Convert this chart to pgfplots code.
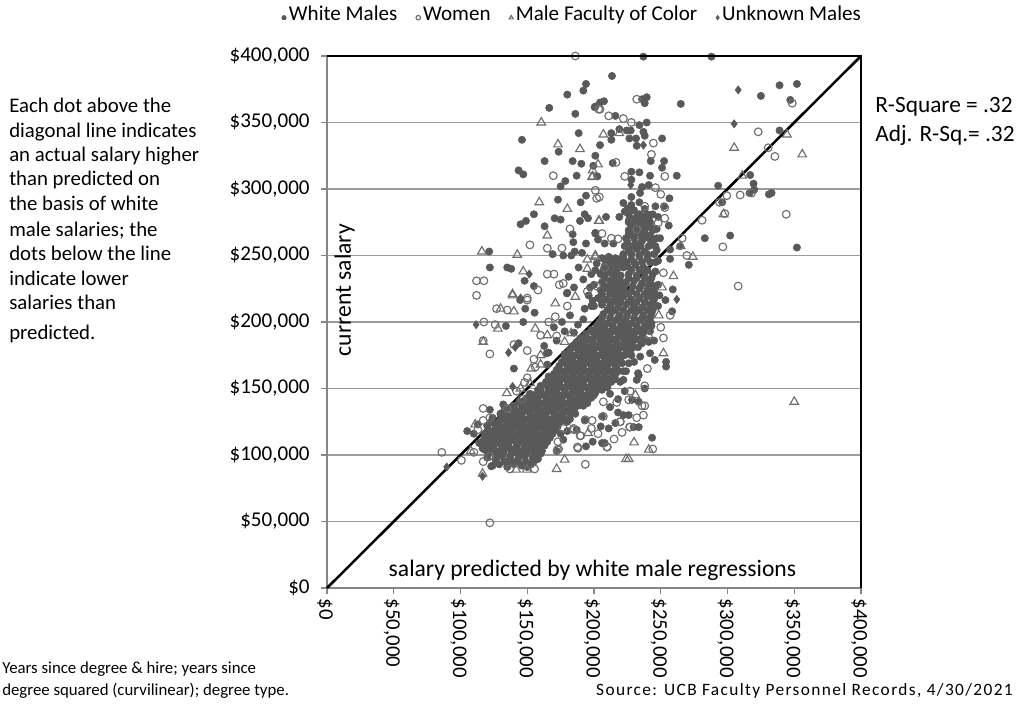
\documentclass[border=0pt]{standalone}
\usepackage{fontspec}
\setmainfont{Carlito}
\newfontfamily\srcfont[LetterSpace=8]{Carlito}
\usepackage{pgfplots}
\pgfplotsset{compat=1.18}
\definecolor{dots}{RGB}{89,89,89}
\definecolor{hollow}{RGB}{110,110,110}
\definecolor{gridc}{RGB}{155,155,155}
\definecolor{axisc}{RGB}{134,134,134}

\begin{document}
\begin{tikzpicture}[x=0.75pt,y=0.75pt]
\path[use as bounding box] (0,0) rectangle (1016,708);
\begin{axis}[
  at={(245.25pt,90pt)}, anchor=south west,
  scale only axis, width=400.5pt, height=399pt,
  xmin=0, xmax=400, ymin=0, ymax=400,
  clip=false,
  axis line style={axisc, line width=0.9pt},
  xtick={0,50,100,150,200,250,300,350,400},
  ytick={0,50,100,150,200,250,300,350,400},
  xticklabels={\$0,{\$50,000},{\$100,000},{\$150,000},{\$200,000},{\$250,000},{\$300,000},{\$350,000},{\$400,000}},
  yticklabels={\$0,{\$50,000},{\$100,000},{\$150,000},{\$200,000},{\$250,000},{\$300,000},{\$350,000},{\$400,000}},
  tick align=outside, tick pos=left,
  major tick length=4.5pt,
  tick style={axisc, line width=0.8pt},
  x tick label style={rotate=-90, anchor=west, yshift=-1.5pt, font=\fontsize{15.6}{18}\selectfont},
  y tick label style={xshift=-5pt, font=\fontsize{15.8}{18}\selectfont},
  ymajorgrids, grid style={gridc, line width=1pt},
  xlabel={salary predicted by white male regressions},
  ylabel={current salary},
  label style={font=\fontsize{17.7}{20}\selectfont},
  xlabel style={at={(axis description cs:0.497,0.034)}, anchor=center},
  ylabel style={at={(axis description cs:0.033,0.56)}, anchor=center},
  legend style={at={(0.46,1.072)}, anchor=center, draw=none, fill=none,
    font=\fontsize{15.8}{18}\selectfont, legend columns=4,
    nodes={text height=0.7em, text depth=0.22em},
    /tikz/every even column/.append style={column sep=12pt}},
  legend image code/.code={\draw[mark repeat=2,mark phase=2,#1,mark size=1.7pt] plot coordinates {(0cm,0cm)(0.23cm,0cm)(0.46cm,0cm)};},
]
% White Males
\addplot[only marks, mark=*, mark size=2.75pt, color=dots, mark options={fill=dots}] coordinates {
(194,379)(192,374)(180,371)(166.5,361)(186,356.5)(201,362)(188.5,342)(146,337)(173.5,328)(163,321)
(184,321)(190.5,319)(143.5,314)(147,311)(187,310)(178.5,306)(175,302)(173,292)(190,290)(194,295)
(155,281)(149,276)(145,273.5)(163,272)(170.5,278)(175,277)(189.5,276)(193,281)(195.5,278)(184,266)
(184.5,260)(194,259)(201,267)(121.5,253)(169,251)(177,250)(183,250)(185.5,253)(191,252)(122,241)
(135,241)(138,240)(188.5,241)(181,234)(148,231)(155,227)(192,232)(201,239)(180,222)(185,226)(197,226)
(237,399.5)(288,399.5)(213.5,385)(339,378)(352,379)(325,370)(347,367)(265,364)(239.5,369)(236,367.5)
(238,364.5)(207.5,366)(204.5,365)(200.5,361.5)(216,355)(239.5,350)(234,348)(219,345)(213,342)(224.5,344)
(227.5,344)(237,343)(251,338)(238,340)(213,337)(226.5,338)(231.5,338)(232,332.5)(204.5,333)(339,344)
(201,325)(252.5,321)(242.5,321)(251,316)(214,319.5)(199.5,317.5)(228,313)(234,312.5)(242,310)(262,310)
(202.5,309.5)(228,307)(317,310.5)(293,302.5)(319.5,304)(320,299.5)(316.5,297)(333,297)(331,296)(296,290)
(256.5,293)(241,303)(236,301.5)(234.5,297)(228,294)(222,289.5)(228,288)(234,290)(246,287)(252.5,287)
(223,283)(209,279)(219,279)(226,276)(236,279.5)(237,276)(248,279)(256,272.5)(201,266.5)(203,262)
(208,259)(214.5,259)(283,263)(302,265)(227,266)(234.5,266.5)(249.5,263)(264.5,257)(257,254.5)(352,256)
(271,243)(257,247.5)(259,224.5)
(243.5,113)(199,110)(194,106.5)(206,109)(208,109)(105,118)(140,165)(143.5,184)(134,197)(144.7,216.5)
(148.5,210)(155.5,207)(147,200)(162.7,182)(166,177)(179.7,221.5)(254,166.5)(254,170)(258.5,208)
(229.7,121)(233.5,121)(222,130)(218,132)(228.5,141.5)(233.5,140)(233.5,160)(232,156.5)(222,156.5)
(242,176.5)(245.5,171.5)(242,199)(253.5,216.5)(132,138)(114,109)(116.5,105)(205,121.5)(211,120)(177,111.5)
(219.6,155)(233,161.5)(234.6,174)(241,185)(123,91.5)(164.6,176.5)
% dense band
(124,92)(129,93)(135,91)(140,93)(146,92)(150,91)(153,93)
(120,98)(126,97)(131,99)(137,98)(143,97)(148,99)(154,98)(158,97)
(118,104)(123,105)(129,103)(134,105)(140,104)(146,103)(151,105)(157,104)(161,103)
(116,110)(121,111)(127,109)(133,110)(138,111)(144,109)(150,110)(155,111)(160,109)(165,110)
(118,116)(123,115)(129,117)(135,116)(141,115)(147,117)(153,116)(159,115)(164,117)(169,116)
(120,122)(126,123)(132,121)(138,122)(144,123)(150,121)(156,122)(162,123)(168,121)(173,122)
(124,128)(130,127)(136,129)(142,128)(148,127)(154,129)(160,128)(166,127)(172,129)(177,128)(182,127)
(133,134)(137,135)(143,133)(149,134)(155,135)(161,133)(167,134)(173,135)(179,133)(185,134)
(144,140)(148,141)(154,140)(160,139)(166,141)(172,140)(178,139)(184,141)(190,140)(195,139)
(152,146)(155,145)(161,146)(167,147)(173,145)(179,146)(185,147)(191,145)(197,146)(201,147)
(160,152)(164,153)(170,152)(176,151)(182,153)(188,152)(194,151)(200,153)(206,152)(210,151)
(166,159)(172,157)(178,158)(184,159)(190,157)(196,158)(202,159)(208,157)(214,158)
(172,164)(178,163)(184,165)(190,164)(196,163)(202,165)(208,164)(214,163)(217,165)
(176,170)(182,171)(188,169)(194,170)(200,171)(206,169)(212,170)(218,171)
(178,176)(184,175)(190,177)(196,176)(202,175)(208,177)(214,176)(220,175)
(184,182)(190,183)(196,181)(202,182)(208,183)(214,181)(220,182)(226,183)
(190,188)(196,187)(202,189)(208,188)(214,187)(220,189)(226,188)(232,187)
(198,194)(204,195)(210,193)(216,194)(222,195)(228,193)(234,194)(240,195)
(204,200)(210,199)(216,201)(222,200)(228,199)(234,201)(240,200)(243,199)
(207,206)(213,207)(219,205)(225,206)(231,207)(237,205)(243,206)
(212,212)(218,211)(224,213)(230,212)(236,211)(242,213)
(216,218)(222,219)(228,217)(234,218)(240,219)(245,217)
(222,224)(228,223)(234,225)(240,224)(245,223)
(224,230)(230,231)(236,229)(242,230)
(226,236)(232,235)(238,237)(244,236)
(225,242)(231,243)(237,241)
(222,248)(228,247)(234,249)(240,248)
(226,254)(232,255)(238,253)
(225,260)(231,259)(236,261)(243,260)
% in-between rows of the band
(127,95)(133,95)(138,95)(143,95)(149,95)(155,95)
(121,101)(127,101)(132,101)(138,101)(143,101)(149,101)(155,101)(160,101)
(119,107)(125,107)(131,107)(136,107)(142,107)(148,107)(153,107)(158,107)(163,107)
(118,113)(124,113)(130,113)(136,113)(141,113)(147,113)(152,113)(158,113)(162,113)(167,113)
(121,119)(126,119)(132,119)(138,119)(144,119)(150,119)(156,119)(162,119)(166,119)(171,119)
(123,125)(129,125)(135,125)(141,125)(147,125)(153,125)(159,125)(165,125)(170,125)(175,125)(180,125)
(130,131)(134,131)(140,131)(146,131)(152,131)(158,131)(164,131)(170,131)(176,131)(182,131)(186,131)
(140,137)(146,137)(152,137)(158,137)(164,137)(170,137)(176,137)(182,137)(188,137)(192,137)
(150,143)(152,143)(158,143)(164,143)(170,143)(176,143)(182,143)(188,143)(194,143)(198,143)
(158,149)(160,149)(166,149)(172,149)(178,149)(184,149)(190,149)(196,149)(202,149)(206,149)
(164,155)(168,155)(174,155)(180,155)(186,155)(192,155)(198,155)(204,155)(210,155)(213,155)
(170,161)(172,161)(178,161)(184,161)(190,161)(196,161)(202,161)(208,161)(214,161)(216,161)
(174,167)(180,167)(186,167)(192,167)(198,167)(204,167)(210,167)(216,167)
(178,173)(184,173)(190,173)(196,173)(202,173)(208,173)(214,173)(220,173)
(182,179)(188,179)(194,179)(200,179)(206,179)(212,179)(218,179)(224,179)
(187,185)(193,185)(199,185)(205,185)(211,185)(217,185)(223,185)(229,185)
(194,191)(200,191)(206,191)(212,191)(218,191)(224,191)(230,191)(236,191)
(202,197)(208,197)(214,197)(220,197)(226,197)(232,197)(238,197)(243,197)
(206,203)(212,203)(218,203)(224,203)(230,203)(236,203)(242,203)
(210,209)(216,209)(222,209)(228,209)(234,209)(240,209)(244,209)
(214,215)(220,215)(226,215)(232,215)(238,215)(244,215)
(220,221)(226,221)(232,221)(238,221)(244,221)
(223,227)(229,227)(235,227)(241,227)(246,227)
(226,233)(232,233)(238,233)(243,233)
(228,239)(234,239)(240,239)
% filling the body of the band
(126,103)(132,103)(138,103)(144,103)(150,103)(156,103)
(124,109)(130,109)(136,109)(142,109)(148,109)(154,109)(160,109)
(126,115)(132,115)(138,115)(144,115)(150,115)(156,115)(162,115)
(129,121)(135,121)(141,121)(147,121)(153,121)(159,121)(165,121)
(133,127)(139,127)(145,127)(151,127)(157,127)(163,127)(169,127)(175,127)
(140,133)(146,133)(152,133)(158,133)(164,133)(170,133)(176,133)(182,133)
(151,139)(157,139)(163,139)(169,139)(175,139)(181,139)(187,139)(193,139)
(158,145)(164,145)(170,145)(176,145)(182,145)(188,145)(194,145)(200,145)
(167,151)(173,151)(179,151)(185,151)(191,151)(197,151)(203,151)(209,151)
(169,157)(175,157)(181,157)(187,157)(193,157)(199,157)(205,157)(211,157)(216,157)
(175,163)(181,163)(187,163)(193,163)(199,163)(205,163)(211,163)(218,163)(222,163)
(179,169)(185,169)(191,169)(197,169)(203,169)(209,169)(215,169)(221,169)(226,169)
(181,175)(187,175)(193,175)(199,175)(205,175)(211,175)(217,175)(223,175)(228,175)
(187,181)(193,181)(199,181)(205,181)(211,181)(217,181)(223,181)(229,181)(233,181)
(193,187)(199,187)(205,187)(211,187)(217,187)(223,187)(229,187)(235,187)(238,187)
(201,193)(207,193)(213,193)(219,193)(225,193)(231,193)(237,193)(242,193)
% wider top of the band
(200,212)(206,213)(203,218)(209,217)(205,224)(210,225)(215,224)(219,223)
(206,230)(212,231)(217,230)(221,229)(205,236)(210,237)(215,236)(220,235)
(208,242)(213,243)(218,242)(222,241)(206,248)(211,249)(216,248)(219,247)
(226,266)(230,267)(238,266)(242,265)(228,272)(233,273)(238,272)(243,271)
(227,278)(232,279)(241,278)(225,285)(230,284)(238,285)
(248,212)(249,220)(248,228)(246,238)(248,246)(247,254)(245,262)(247,270)
(224,245)(230,245)(236,245)(242,245)(246,245)
(222,251)(228,251)(234,251)(240,251)(245,251)
(223,257)(229,257)(235,257)(241,257)(246,257)
(224,263)(230,263)(236,263)(241,263)(247,263)
(226,269)(232,269)(238,269)(244,269)
(226,275)(231,275)(236,275)(242,275)
(226,281)(234,281)(240,281)(244,281)
(206,215)(212,215)(217,215)(206,221)(212,221)(217,221)(208,227)(213,227)(218,227)
(208,233)(214,233)(219,233)(207,239)(212,239)(217,239)(209,245)(214,245)(219,245)
(198,212)(196,220)(200,228)(198,236)(202,244)
% scatter round the band
(170,196)(176,200)(182,205)(188,198)(193,210)(199,216)
(165,168)(172,186)(178,193)(185,192)(192,202)
(206,129)(212,136)(218,142)(223,148)(216,124)(212,146)(224,163)(230,170)(228,180)(236,184)
(245,186)(238,150)(226,130)(193,126)(187,119)(180,118)(175,116)(172,103)
(128,114)(110,116)(113,123)(130,131)(122,134)
};
% Women
\addplot[only marks, mark=o, mark size=2.9pt, color=hollow, mark options={line width=0.85pt, fill=none}] coordinates {
(186,400)(169.5,310)(203.5,360)(201,299)(202,293)(182,270)(152,258)(165,255.5)(176,255.5)(112,231)
(117.5,231)(112,220)(165,236)(170,236)(177,229)(150,218)(195,223)(202,227)
(232,367.5)(204.5,360)(211,355)(222,353)(228,350)(244.5,334.5)(243,326)(216.5,320)(223,309.5)(253,309.5)
(246,301)(250,296)(204,294)(238,287)(253,286)(253,278)(248,274.5)(206,266.5)(213,263)(218,262.5)
(232,269.5)(266,263)(281,276.5)(294,290)(299.5,295)(309.5,295.5)(318,297)(298,281.5)(344,281)(296.5,256.5)
(308,227)(269.5,250)(323,343)(330.5,331)(335.5,324.5)(348.5,364.5)(252,237)(208,241)
(127,210)(135,209)(150,216.5)(117.5,200)(126,198)(117,186)(122,176)(150,178.5)(148,154.5)(117,135)
(117,126)(122,128)(113,119)(86,102)(100.7,96)(110,102)(117,95)(122,49)(193.5,93)(173.5,104.5)
(188,105)(210,106)(244,104.5)(221,117)(238,152)(227,148)(236,137)(238,137)(237,130)(219.7,125)
(252,188)(240,165)(257,205)(172,189.5)(166,200)(171,204)(140,183)(173,110)(185,119)(190,114.5)
(226.7,121)(137,89.5)(155.5,89.5)(122,99)
(160,190)(155,172)(198,120)(203,116)(215,112)(232,128)(250,196)(180,212)(174,228)(158,224)
(193.4,126.5)(198.6,126)(207,140)(217,139.5)(219.6,125)(177,120)(184.6,120)(189.6,114.5)(172.6,104)(187.6,106)
(209.6,106)(226,141.5)(227,121)(207,129)(142,148)(150,158)(156,166)(146,142)(135,135)
};
% Male Faculty of Color
\addplot[only marks, mark=triangle, mark size=3.7pt, color=hollow, mark options={line width=0.85pt, fill=none}] coordinates {
(160.5,350)(173,333.5)(189.5,330)(199,314)(198.5,309)(159,290)(180,285)(203.5,276)(165,265)(116,253)
(142.5,250.5)(147,238)(195,247)(195,240)(201,250)(139,221)(186,219)
(207,341)(219,342)(305,331)(344.5,341)(356,326)(203,318.5)(199,309.5)(311,310)(297,281)(204,276)
(201,249)(274,249)(265,257)(259.5,234.5)(251,226)(350,140)
(139,220)(171,214)(130,210)(140,208)(156,195)(128,195)(165,190)(117,185)(178,185)(160,175)
(153,165)(241,190)(252,176.5)(248.5,205)(231,145)(195.5,116.5)(230,109.5)(241,104)(178,96.5)(172,89.5)
(224,97)(226,97)(141.7,89)(149.7,89)(116.5,86)(111,123)(107.7,103)(134.7,146.5)(183,191.5)
(152,154)(160,168)(145,150)
};
% Unknown Males
\addplot[only marks, mark=diamond*, mark size=3.1pt, color=dots, mark options={fill=dots}] coordinates {
(151.5,236)(145,218)(308,374.5)(305,349)(237,333)(227.5,303)(262,217)(111.7,198)(136,177)(141,181)
(139,151.5)(89.7,91)(116.5,84)
};
\addplot[forget plot, black, line width=1.9pt] coordinates {(0,0)(400,400)};
\legend{White Males, Women, Male Faculty of Color, Unknown Males}
\end{axis}
\draw[black, line width=0.9pt] (327,652) -- (861,652) -- (861,120);
% side notes
\begin{scope}[every node/.style={anchor=base west, inner sep=0pt, font=\fontsize{15.6}{18}\selectfont}]
\node at (9,595) {Each dot above the};
\node at (9,570) {diagonal line indicates};
\node at (9,546) {an actual salary higher};
\node at (9,522) {than predicted on};
\node at (9,497) {the basis of white};
\node at (9,472) {male salaries; the};
\node at (9,448) {dots below the line};
\node at (9,423) {indicate lower};
\node at (9,399) {salaries than};
\node at (9,369) {predicted.};
\end{scope}
\node[anchor=base west, inner sep=0pt, font=\fontsize{17.5}{20}\selectfont] at (875,595) {R-Square = .32};
\node[anchor=base west, inner sep=0pt, font=\fontsize{17.5}{20}\selectfont] at (875,566) {Adj. R-Sq.= .32};
\node[anchor=base west, inner sep=0pt, font=\fontsize{12.6}{14}\selectfont] at (2,35) {Years since degree \& hire; years since};
\node[anchor=base west, inner sep=0pt, font=\fontsize{12.6}{14}\selectfont] at (2,13) {degree squared (curvilinear); degree type.};
\node[anchor=base east, inner sep=0pt, font=\srcfont\fontsize{13}{15}\selectfont] at (1013,13) {Source: UCB Faculty Personnel Records, 4/30/2021};
\end{tikzpicture}
\end{document}
